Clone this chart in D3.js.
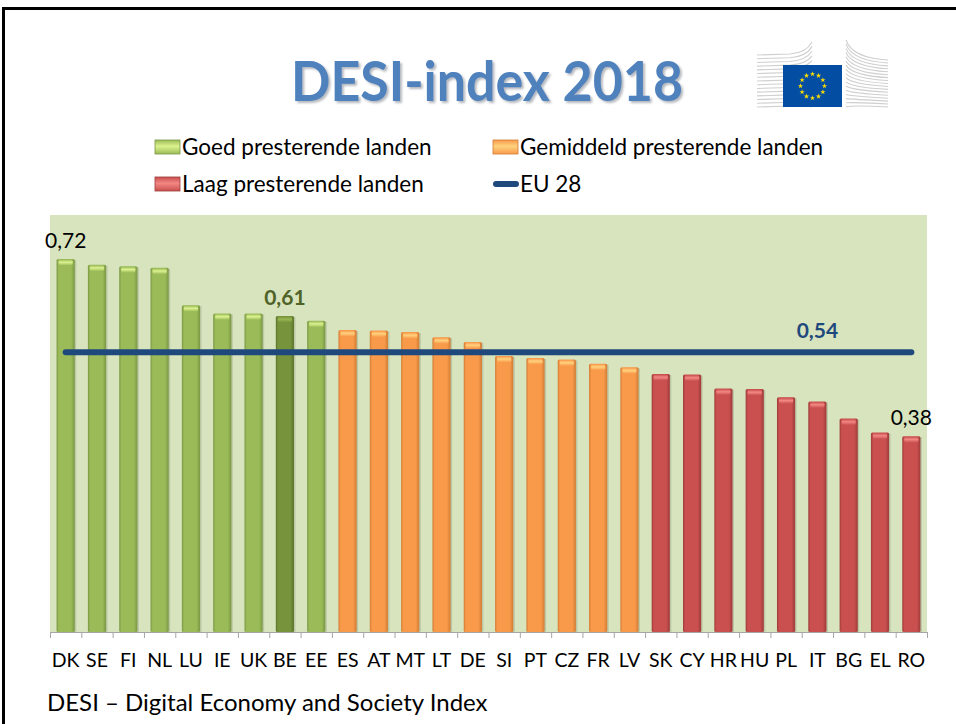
<!DOCTYPE html>
<html>
<head>
<meta charset="utf-8">
<script src="https://cdn.jsdelivr.net/npm/d3@7"></script>
<style>
  body { margin: 0; background: #fff; }
  svg { display: block; font-family: Lato, "Open Sans", sans-serif; }
</style>
</head>
<body>
<div id="chart"></div>
<script>
var width = 956, height = 724;

// data
var countries = ["DK","SE","FI","NL","LU","IE","UK","BE","EE","ES","AT","MT","LT","DE",
                 "SI","PT","CZ","FR","LV","SK","CY","HR","HU","PL","IT","BG","EL","RO"];
var values = [0.72,0.709,0.706,0.703,0.631,0.615,0.615,0.61,0.601,0.583,0.582,0.579,0.569,0.56,
              0.533,0.529,0.526,0.518,0.511,0.498,0.497,0.47,0.469,0.453,0.445,0.412,0.385,0.378];
var groups = ["good","good","good","good","good","good","good","good","good",
              "mid","mid","mid","mid","mid","mid","mid","mid","mid","mid",
              "low","low","low","low","low","low","low","low","low"];
var highlight = "BE";
var euAverage = 0.54;
var legendLabels = ["Goed presterende landen","Gemiddeld presterende landen","Laag presterende landen","EU 28"];
var valueLabels = [
  {country: "DK", text: "0,72", bold: false, color: "#000"},
  {country: "BE", text: "0,61", bold: true, color: "#4f6228"},
  {country: "RO", text: "0,38", bold: false, color: "#000"}
];

var colors = {
  good: {main: "#9bbb59", edge: "#7a9842", cap: "#dcf28e"},
  best: {main: "#77933c", edge: "#5c752c", cap: "#9ab650"},
  mid:  {main: "#f99a4b", edge: "#d27c33", cap: "#ffd27e"},
  low:  {main: "#c9504e", edge: "#9e3b39", cap: "#f28784"}
};

var svg = d3.select("#chart").append("svg")
    .attr("width", width)
    .attr("height", height);

var defs = svg.append("defs");
Object.keys(colors).forEach(function(k){
    var c = colors[k];
    var g = defs.append("linearGradient").attr("id", "bar-" + k)
        .attr("x1", 0).attr("x2", 1).attr("y1", 0).attr("y2", 0);
    g.append("stop").attr("offset", "0%").attr("stop-color", c.edge);
    g.append("stop").attr("offset", "12%").attr("stop-color", c.main);
    g.append("stop").attr("offset", "80%").attr("stop-color", c.main);
    g.append("stop").attr("offset", "100%").attr("stop-color", c.edge);
    var t = defs.append("linearGradient").attr("id", "cap-" + k)
        .attr("x1", 0).attr("x2", 0).attr("y1", 0).attr("y2", 1);
    t.append("stop").attr("offset", "0%").attr("stop-color", c.main);
    t.append("stop").attr("offset", "45%").attr("stop-color", c.cap);
    t.append("stop").attr("offset", "100%").attr("stop-color", c.main);
});

var shadow = defs.append("filter").attr("id", "title-shadow")
    .attr("x", "-5%").attr("y", "-10%").attr("width", "115%").attr("height", "130%");
shadow.append("feDropShadow")
    .attr("dx", 2).attr("dy", 2).attr("stdDeviation", 1)
    .attr("flood-color", "#5a6470").attr("flood-opacity", 0.45);

// frame
svg.append("rect")
    .attr("x", 3.5).attr("y", 8.5)
    .attr("width", 1000).attr("height", 1000)
    .attr("fill", "none").attr("stroke", "#000").attr("stroke-width", 3);

// title
svg.append("text")
    .attr("x", 487).attr("y", 101)
    .attr("text-anchor", "middle")
    .attr("font-size", 55).attr("font-weight", "bold")
    .attr("textLength", 392).attr("lengthAdjust", "spacingAndGlyphs")
    .attr("fill", "#4f81bd")
    .attr("filter", "url(#title-shadow)")
    .text("DESI-index 2018");

// logo: building wings + flag
var logo = svg.append("g").attr("class", "logo")
    .attr("fill", "none").attr("stroke", "#cfcfcf").attr("stroke-width", 1.1);
var nLines = 15;
d3.range(nLines).forEach(function(i){
    var t = i / (nLines - 1);
    var yL = 55 + t * 52, yR = 42 + t * 65;
    var p = d3.path();
    p.moveTo(757, yL);
    p.lineTo(790, yL - 1);
    p.quadraticCurveTo(806, yL - 2, 812, yR);
    logo.append("path").attr("d", p.toString());
});
d3.range(nLines + 2).forEach(function(i){
    var t = i / (nLines + 1);
    var yL = 40 + t * 67, yR = 60 + t * 47;
    var q = d3.path();
    q.moveTo(846, yL);
    q.quadraticCurveTo(852, yR - 2, 888, yR);
    logo.append("path").attr("d", q.toString());
});
logo.append("rect").attr("x", 783).attr("y", 65).attr("width", 59).attr("height", 42)
    .attr("fill", "#034ea2").attr("stroke", "none");
var star = d3.symbol().type(d3.symbolStar).size(9);
d3.range(12).forEach(function(k){
    var a = k * Math.PI / 6;
    logo.append("path").attr("d", star)
        .attr("transform", "translate(" + (812.5 + 12 * Math.sin(a)) + "," + (86 - 12 * Math.cos(a)) + ")")
        .attr("fill", "#ffdd00").attr("stroke", "none");
});

// legend
var legend = svg.append("g").attr("class", "legend").attr("font-size", 22.5);
var legendItems = [
    {label: legendLabels[0], key: "good", x: 155, y: 147},
    {label: legendLabels[1], key: "mid", x: 493, y: 147},
    {label: legendLabels[2], key: "low", x: 155, y: 184},
    {label: legendLabels[3], key: "eu", x: 493, y: 184}
];
legendItems.forEach(function(d){
    if (d.key === "eu") {
        legend.append("line")
            .attr("x1", d.x + 3).attr("x2", d.x + 23)
            .attr("y1", d.y).attr("y2", d.y)
            .attr("stroke", "#1f497d").attr("stroke-width", 6).attr("stroke-linecap", "round");
    } else {
        legend.append("rect")
            .attr("x", d.x).attr("y", d.y - 7).attr("width", 25).attr("height", 14)
            .attr("fill", "url(#cap-" + d.key + ")")
            .attr("stroke", colors[d.key].edge).attr("stroke-width", 0.8);
    }
    legend.append("text")
        .attr("x", d.x + 27).attr("y", d.y + 8)
        .attr("fill", "#000")
        .text(d.label);
});

// chart
var plot = {left: 50, right: 927, top: 215, bottom: 632};

var x = d3.scaleBand()
    .domain(countries)
    .range([plot.left, plot.right])
    .paddingInner(0.42)
    .paddingOuter(0.21);

var y = d3.scaleLinear()
    .domain([0, 0.805])
    .range([plot.bottom, plot.top]);

svg.append("rect")
    .attr("x", plot.left).attr("y", plot.top)
    .attr("width", plot.right - plot.left).attr("height", plot.bottom - plot.top)
    .attr("fill", "#d7e4bd");

var data = countries.map(function(c, i){
    var key = groups[i];
    if (c === highlight) key = "best";
    return {country: c, value: values[i], key: key};
});

var bars = svg.append("g").attr("class", "bars")
    .selectAll("g")
    .data(data)
    .enter().append("g");

bars.append("rect")
    .attr("x", function(d){ return x(d.country) + 1.5; })
    .attr("y", function(d){ return y(d.value) + 1; })
    .attr("width", x.bandwidth())
    .attr("height", function(d){ return plot.bottom - y(d.value) - 1; })
    .attr("fill", "#000").attr("opacity", 0.12);

bars.append("rect")
    .attr("x", function(d){ return x(d.country); })
    .attr("y", function(d){ return y(d.value); })
    .attr("width", x.bandwidth())
    .attr("height", function(d){ return plot.bottom - y(d.value); })
    .attr("rx", 1.5)
    .attr("fill", function(d){ return "url(#bar-" + d.key + ")"; });

bars.append("rect")
    .attr("x", function(d){ return x(d.country) + 2; })
    .attr("y", function(d){ return y(d.value) + 0.5; })
    .attr("width", x.bandwidth() - 4)
    .attr("height", 6)
    .attr("rx", 2)
    .attr("fill", function(d){ return "url(#cap-" + d.key + ")"; });

// x axis
var xAxis = d3.axisBottom(x).tickSize(0).tickPadding(21);
var gx = svg.append("g")
    .attr("transform", "translate(0," + plot.bottom + ")")
    .call(xAxis);
gx.select(".domain").attr("stroke", "#a6a6a6");
gx.selectAll("text").attr("font-size", 19.5).attr("fill", "#000")
    .attr("font-family", "Lato, sans-serif");

svg.append("g").attr("class", "ticks")
    .selectAll("line")
    .data(d3.range(countries.length + 1))
    .enter().append("line")
    .attr("x1", function(i){ return plot.left + i * x.step() + 0.5; })
    .attr("x2", function(i){ return plot.left + i * x.step() + 0.5; })
    .attr("y1", plot.bottom).attr("y2", plot.bottom + 6)
    .attr("stroke", "#a6a6a6");

// EU 28 line
var first = countries[0], last = countries[countries.length - 1];
svg.append("line")
    .attr("x1", x(first) + x.bandwidth() / 2)
    .attr("x2", x(last) + x.bandwidth() / 2)
    .attr("y1", y(euAverage)).attr("y2", y(euAverage))
    .attr("stroke", "#1f497d").attr("stroke-width", 6).attr("stroke-linecap", "round");

svg.append("text")
    .attr("x", x("IT") + x.bandwidth() / 2)
    .attr("y", y(euAverage) - 14)
    .attr("text-anchor", "middle")
    .attr("font-size", 21).attr("font-weight", "bold")
    .attr("fill", "#1f497d")
    .text("0,54");

// value labels
var byCountry = {};
data.forEach(function(d){ byCountry[d.country] = d; });
svg.append("g").selectAll("text")
    .data(valueLabels)
    .enter().append("text")
    .attr("x", function(d){ return x(d.country) + x.bandwidth() / 2; })
    .attr("y", function(d){ return y(byCountry[d.country].value) - 11; })
    .attr("text-anchor", "middle")
    .attr("font-size", 21)
    .attr("font-weight", function(d){ return d.bold ? "bold" : "normal"; })
    .attr("fill", function(d){ return d.color; })
    .text(function(d){ return d.text; });

// footer
svg.append("text")
    .attr("x", 47).attr("y", 711)
    .attr("font-size", 24)
    .attr("fill", "#000")
    .text("DESI \u2013 Digital Economy and Society Index");
</script>
</body>
</html>
